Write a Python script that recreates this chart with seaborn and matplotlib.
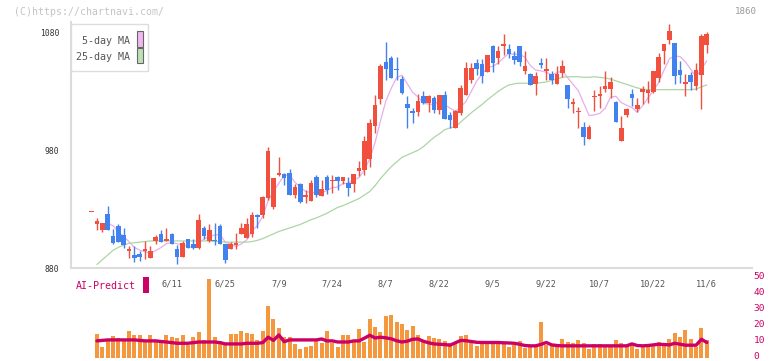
import numpy as np
import pandas as pd
import matplotlib
matplotlib.use('Agg')
import matplotlib.pyplot as plt
import matplotlib.transforms as mtransforms
from matplotlib.patches import Rectangle
import seaborn as sns

# trading days 2025-05-21 .. 2025-11-06 (TSE holidays removed)
holidays = ['2025-07-21', '2025-08-11', '2025-09-15', '2025-09-23', '2025-10-13', '2025-11-03']
tick_labels = ['6/11', '6/25', '7/9', '7/24', '8/7', '8/22', '9/5', '9/22', '10/7', '10/22', '11/6']

opens = [928, 917.5, 912.4, 925.7, 907, 915.5, 908.4, 894.8, 890.8, 891.7,
         894.5, 888.6, 902.7, 908.7, 903.3, 908.7, 896.2, 889.4, 904.4, 900.2,
         897.4, 914, 903.3, 904, 915.7, 900.1, 895.9, 900.1, 908.6, 905.5,
         908.6, 925.3, 924.8, 939.8, 931.9, 959.1, 959.6, 960.5, 941.8, 951.7,
         940.4, 937, 957.3, 940.9, 957.3, 954.3, 957.4, 954, 952.2, 951.7,
         962.4, 963, 972.9, 1000.7, 1023.9, 1054.8, 1058.4, 1049.4, 1040.3, 1019.1,
         1013.1, 1012.6, 1026.2, 1020.5, 1024.7, 1014, 1026.7, 1009.7, 999, 1012,
         1027.3, 1039.4, 1054.2, 1053.1, 1046.5, 1068.4, 1058.4, 1068.4, 1065.8, 1059.9,
         1068.4, 1047.4, 1044.6, 1036.1, 1054.2, 1047.1, 1044.6, 1036.1, 1045.7, 1035.2,
         1020.1, 1012.6, 999.8, 989.9, 1025.7, 1026.8, 1031.8, 1031.8, 1021, 988,
         1010.3, 1027.6, 1015.4, 1029.6, 1029, 1029.6, 1041.7, 1064.4, 1074, 1071.5,
         1048, 1037.1, 1044.3, 1034.6, 1044.3, 1069.8]
highs = [928, 922.8, 918, 932.5, 913.2, 917.2, 914, 898.5, 898.5, 894.8,
         902.7, 898.5, 907.8, 912.6, 914, 909.5, 899.9, 902.7, 905, 904.4,
         926.2, 915.5, 917.2, 918.3, 917.7, 900.1, 902.1, 909.8, 918.3, 922.5,
         927.6, 926.2, 941.2, 982.8, 956.8, 974.3, 961, 964.4, 951.7, 952.5,
         946, 954.5, 958.8, 954.5, 958.8, 958.8, 958.2, 957.4, 957.4, 960.2,
         970.7, 991.9, 1006.9, 1026.7, 1053.6, 1071.8, 1059.8, 1059.3, 1042.9, 1025.9,
         1016.2, 1027.6, 1030.1, 1027.3, 1026.2, 1026.7, 1030.1, 1012.6, 1014, 1035.2,
         1055.1, 1054.5, 1057.9, 1057.9, 1060.7, 1069.2, 1068.4, 1079.1, 1070.1, 1064.1,
         1068.4, 1064.1, 1045.7, 1046.5, 1058.7, 1058.4, 1047.4, 1051.4, 1056.5, 1035.2,
         1024.4, 1016.8, 1004.1, 1001.8, 1031, 1034.4, 1047.1, 1042.3, 1021.9, 1008.9,
         1016, 1031.8, 1024.8, 1034.4, 1038.6, 1047.1, 1062.7, 1070.1, 1087.1, 1071.5,
         1055.6, 1045.1, 1046.5, 1054.5, 1079.1, 1080.5]
lows = [928, 912.6, 910.7, 912.6, 900.2, 902, 897, 888.6, 885.2, 886.3,
        888, 888.6, 900.7, 902.2, 902.7, 900.5, 883.2, 889.4, 897, 896,
        896.5, 905, 902, 899.8, 900.7, 884.3, 895.9, 895.9, 908.6, 905.5,
        906.4, 914, 922.8, 938.1, 929.9, 957.9, 950.8, 941.8, 939.8, 935.5,
        935.5, 937, 940.4, 940.9, 943.2, 944, 946.6, 951.7, 941.2, 944.6,
        958.2, 958.8, 965.8, 994.7, 1019.6, 1039.5, 1041.5, 1039.4, 1028.1, 999,
        1003.2, 1009.2, 1019.6, 1012.6, 1012, 1011.2, 1006.4, 999, 999, 1009.7,
        1027.3, 1037.2, 1044.3, 1037.2, 1046.5, 1046.5, 1053.6, 1060.7, 1058.4, 1053.6,
        1051.4, 1044.6, 1035.2, 1026.7, 1050, 1039.4, 1036.1, 1036.1, 1042.3, 1016,
        1011.7, 999.3, 984.2, 989.9, 1013.4, 1016, 1029.6, 1024.5, 1004.1, 988,
        1008.3, 1017.7, 1012.6, 1019.6, 1020.5, 1028.7, 1038.1, 1053.6, 1070.1, 1036.6,
        1037.2, 1026.1, 1031, 1031, 1015.4, 1062.7]
closes = [928, 919.7, 918, 912.6, 901.3, 902.2, 899.9, 895.5, 888.6, 889.1,
          895.9, 894.2, 906.1, 902.2, 905, 900.5, 889.4, 901, 897.1, 897.4,
          920.5, 907, 912, 903, 900.7, 886.5, 900.1, 900.7, 914.3, 917.7,
          924.8, 923.3, 940.3, 979.2, 956.8, 960.5, 956.8, 941.8, 948.6, 936.1,
          941.8, 952.2, 941.8, 947.4, 946, 954.5, 954, 957.4, 948, 960.2,
          964.7, 987.6, 1002.9, 1018.2, 1051.6, 1048.8, 1041.5, 1048, 1029, 1016,
          1012, 1021.9, 1020.5, 1026.2, 1014, 1026.7, 1006.4, 1005.5, 1013.1, 1033,
          1050, 1050, 1048.8, 1042.9, 1060.7, 1054.2, 1064.4, 1070.1, 1062.1, 1056.5,
          1055.1, 1051.4, 1035.2, 1042.9, 1052.8, 1049.4, 1040, 1044.6, 1051.4, 1023.3,
          1020.5, 1013, 991.3, 999.8, 1026, 1027.1, 1034.4, 1038.1, 1004.1, 999.3,
          1015.4, 1024.5, 1018.2, 1032.4, 1031, 1047.1, 1059.3, 1070.1, 1081.1, 1043.2,
          1044.3, 1037.4, 1038.1, 1048.5, 1076.9, 1079.1]
ma5 = [np.nan, np.nan, np.nan, 918, 915.9, 910.8, 906.8, 902.3, 897.5, 895.1,
       893.8, 892.7, 894.8, 897.5, 900.7, 901.6, 900.6, 899.6, 898.6, 897.1,
       901.1, 904.6, 906.8, 908, 908.6, 901.8, 900.5, 898.2, 900.5, 903.9,
       911.5, 916.2, 924.1, 937.1, 944.9, 952, 958.7, 959, 952.9, 948.8,
       945, 944.1, 944.1, 943.9, 945.8, 948.4, 948.7, 951.9, 952, 954.8,
       956.9, 963.6, 972.7, 986.7, 1005, 1021.8, 1032.6, 1041.6, 1043.8, 1036.7,
       1029.3, 1025.4, 1019.9, 1019.3, 1018.9, 1021.9, 1018.8, 1015.8, 1013.1, 1016.9,
       1021.6, 1030.3, 1039, 1044.9, 1050.5, 1051.3, 1054.2, 1058.5, 1062.3, 1061.5,
       1061.6, 1059, 1052.1, 1048.2, 1047.5, 1046.3, 1044.1, 1045.9, 1047.6, 1041.7,
       1036, 1030.6, 1019.9, 1009.6, 1010.1, 1011.4, 1015.7, 1025.1, 1025.9, 1020.6,
       1018.3, 1016.3, 1012.3, 1018, 1024.3, 1030.6, 1037.6, 1048, 1057.7, 1060.2,
       1059.6, 1055.2, 1048.8, 1042.3, 1049, 1056]
ma25 = [np.nan, 883, 887, 891, 895, 897.5, 899.5, 901, 901.5, 902,
        902.5, 903, 903, 903, 903, 903, 903, 903, 903, 903,
        903, 903, 903, 902.5, 902.5, 902, 902, 902, 902, 902,
        902.5, 903.5, 905, 907, 909, 911, 912.5, 914, 915.5, 917,
        919, 921, 922.5, 924.5, 926.5, 929, 931.5, 933, 935, 937,
        939, 942, 945, 950, 956, 961, 966, 970, 974, 976,
        978, 980, 983, 987, 991, 994, 997.5, 999, 1000, 1004,
        1008, 1012, 1015.5, 1019, 1023, 1026.5, 1030, 1033, 1035.5, 1036.5,
        1037, 1037, 1037, 1037, 1037.5, 1038, 1039.5, 1040.5, 1042, 1042.5,
        1042.5, 1042.5, 1042, 1042, 1042.5, 1042, 1041.5, 1040.5, 1039, 1037.5,
        1036, 1034.5, 1033, 1032, 1031.5, 1031.5, 1031.5, 1031.5, 1031.5, 1031.5,
        1031.5, 1031.5, 1031.5, 1032, 1034, 1035.5]
volume = [np.nan, 15.0, 6.9, 11.3, 13.8, 12.3, 11.3, 16.9, 14.4, 14.4,
          10.2, 14.4, 11.3, 9.6, 14.4, 13.4, 12.3, 14.4, 8.2, 13.4,
          16.3, 11.3, 49.6, 13.4, 10.9, 8.2, 15.0, 15.0, 16.9, 15.9,
          15.0, 11.3, 16.9, 32.6, 24.5, 18.6, 13.4, 13.4, 8.8, 5.6,
          6.9, 7.5, 11.3, 9.2, 16.9, 9.2, 6.7, 14.4, 14.4, 10.2,
          18.2, 10.2, 24.5, 19.2, 16.5, 26.3, 27.0, 22.8, 21.3, 17.6,
          20.1, 14.4, 11.3, 13.8, 12.3, 11.9, 10.7, 9.2, 9.2, 13.8,
          14.4, 10.2, 7.5, 9.2, 10.2, 9.2, 9.2, 9.2, 6.7, 8.2,
          10.7, 6.1, 6.7, 6.7, 22.8, 8.2, 7.5, 8.2, 11.9, 10.2,
          9.6, 11.3, 9.6, 5.6, 8.8, 8.8, 8.2, 8.2, 11.5, 9.6,
          8.2, 8.8, 5.6, 8.2, 8.2, 7.5, 10.2, 8.8, 12.1, 15.9,
          13.0, 17.6, 12.1, 6.7, 19.0, 11.3]
ai_predict = [np.nan, 10.7, 11.0, 11.3, 11.3, 11.3, 11.3, 11.3, 11.3, 11.0,
              10.7, 10.7, 10.7, 10.3, 10.0, 9.6, 9.2, 9.2, 9.2, 9.6,
              10.0, 10.0, 10.0, 10.0, 9.6, 8.8, 8.8, 8.8, 8.8, 9.2,
              9.2, 9.2, 9.6, 13.0, 11.0, 14.4, 10.2, 11.3, 11.3, 11.3,
              11.3, 11.3, 11.3, 11.9, 10.7, 10.7, 10.0, 10.0, 10.0, 10.7,
              10.7, 12.4, 14.2, 12.5, 13.0, 12.6, 12.0, 10.8, 10.0, 10.5,
              11.7, 11.9, 10.5, 9.5, 8.8, 8.6, 8.4, 8.0, 9.5, 11.0,
              10.8, 10.3, 9.8, 9.7, 9.7, 9.7, 9.7, 9.5, 9.4, 9.2,
              8.6, 7.8, 7.6, 7.6, 8.5, 9.7, 8.2, 7.8, 7.6, 7.6,
              7.6, 7.6, 7.6, 7.6, 7.6, 7.6, 7.6, 7.6, 7.6, 7.6,
              7.6, 8.8, 7.8, 7.6, 7.8, 8.2, 8.6, 8.4, 8.2, 9.2,
              8.6, 8.0, 8.0, 8.0, 11.7, 9.7]

dates = pd.bdate_range('2025-05-21', '2025-11-06', freq='C', holidays=holidays)
df = pd.DataFrame({'open': opens, 'high': highs, 'low': lows, 'close': closes,
                   'ma5': ma5, 'ma25': ma25, 'volume': volume, 'ai': ai_predict}, index=dates)
df['x'] = np.arange(len(df))

RED = '#f2503e'
BLUE = '#4282ee'
MAGENTA = '#cc0066'

sns.set_theme(style='white')
plt.rcParams['font.family'] = ['DejaVu Sans Mono']

W, H = 772, 361
fig = plt.figure(figsize=(W / 100, H / 100), dpi=100)


def fx(px):
    return px / W


def fy(py):
    return 1 - py / H


ax = fig.add_axes([fx(71), fy(268), fx(752) - fx(71), fy(22) - fy(268)])
axv = fig.add_axes([fx(71), fy(358), fx(752) - fx(71), fy(278) - fy(358)])
axv.set_facecolor('none')
ax.set_facecolor('none')

# candles
up = df['close'] >= df['open']
cols = np.where(up, RED, BLUE)
mid = (df['open'] + df['close']) / 2
body = (df['close'] - df['open']).abs()
bottom = np.where(body < 1.2, mid - 0.6, np.minimum(df['open'], df['close']))
height = np.maximum(body, 1.2)
ax.vlines(df['x'], df['low'], df['high'], colors=cols, lw=1.0, zorder=3)
ax.bar(df['x'], height, bottom=bottom, width=0.86, color=cols, linewidth=0, zorder=4)

sns.lineplot(x=df['x'], y=df['ma5'], ax=ax, color='#e8aeec', lw=0.9, zorder=2)
sns.lineplot(x=df['x'], y=df['ma25'], ax=ax, color='#acd6a4', lw=0.9, zorder=2)

xlim = (-3.85, len(df) + 7.45)
ax.set_xlim(xlim)
ax.set_ylim(880, 1089)
ax.set_yticks([880, 980, 1080])
ax.set_yticklabels(['880', '980', '1080'])
ax.tick_params(axis='y', length=3.5, width=1, color='#d8d8d8', pad=5, labelsize=5.8, labelcolor='#333333')

pos = [df['x'].iloc[list(dates.strftime('%-m/%-d')).index(t)] for t in tick_labels]
ax.set_xticks(pos)
ax.set_xticklabels(tick_labels)
ax.set_xticks(np.linspace(xlim[0], xlim[1], 12), minor=True)
ax.tick_params(axis='x', which='major', length=0, pad=8, labelsize=6.2, labelcolor='#555555')
ax.tick_params(axis='x', which='minor', direction='inout', length=6, width=1.2, color='#dcdcdc')
ax.set_xlabel('')
ax.set_ylabel('')
for s in ['top', 'right']:
    ax.spines[s].set_visible(False)
for s in ['left', 'bottom']:
    ax.spines[s].set_color('#dcdcdc')
    ax.spines[s].set_linewidth(1.5)

# volume + AI predict
vdf = df.dropna(subset=['volume'])
sns.barplot(x=vdf['x'], y=vdf['volume'], native_scale=True, color='#f3983f', saturation=1,
            width=0.75, errorbar=None, ax=axv, linewidth=0)
sns.lineplot(x=vdf['x'], y=vdf['ai'], ax=axv, color=MAGENTA, lw=2.4)
axv.set_xlim(xlim)
axv.set_ylim(0, 50)
axv.set_xticks([])
axv.yaxis.tick_right()
axv.set_yticks([0, 10, 20, 30, 40, 50])
axv.tick_params(axis='y', length=0, pad=1, labelsize=6.8, labelcolor=MAGENTA)
lift = mtransforms.ScaledTranslation(0, 2.5 / 100, fig.dpi_scale_trans)
for lab in axv.get_yticklabels():
    lab.set_transform(lab.get_transform() + lift)
axv.set_xlabel('')
axv.set_ylabel('')
for s in axv.spines.values():
    s.set_visible(False)

# legend box
fig.add_artist(Rectangle((fx(71), fy(71)), fx(148) - fx(71), fy(24) - fy(71), transform=fig.transFigure,
                         facecolor='white', edgecolor='#dddddd', lw=1, zorder=5))
fig.text(fx(129.5), fy(41.5), '5-day MA', ha='right', va='center', fontsize=7.2, color='#555555', zorder=6)
fig.text(fx(129.5), fy(57), '25-day MA', ha='right', va='center', fontsize=7.2, color='#555555', zorder=6)
fig.add_artist(Rectangle((fx(136.5), fy(46.5)), fx(6), fy(0) - fy(15), transform=fig.transFigure,
                         facecolor='#f0b8ee', edgecolor='#666666', lw=0.8, zorder=6))
fig.add_artist(Rectangle((fx(136.5), fy(63)), fx(6), fy(0) - fy(15), transform=fig.transFigure,
                         facecolor='#bfe0b6', edgecolor='#666666', lw=0.8, zorder=6))

# AI-Predict label
fig.text(fx(76), fy(286), 'AI-Predict', ha='left', va='center', fontsize=7.2, color=MAGENTA)
fig.add_artist(Rectangle((fx(142.5), fy(293)), fx(6), fy(0) - fy(16), transform=fig.transFigure,
                         facecolor=MAGENTA, edgecolor='none'))

fig.text(fx(14), fy(12), '(C)https://chartnavi.com/', ha='left', va='center', fontsize=7.1, color='#c4c4c4')
fig.text(fx(757), fy(12), '1860', ha='right', va='center', fontsize=6.6, color='#999999')

fig.savefig('out.png', dpi=100)
